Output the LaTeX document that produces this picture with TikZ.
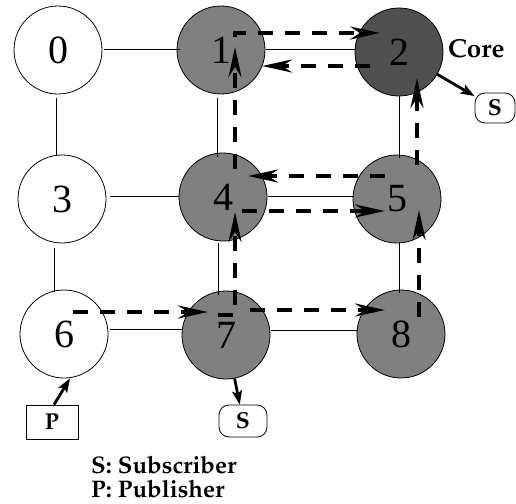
\documentclass[tikz,border=0pt]{standalone}
\usepackage[T1]{fontenc}
\usepackage{fontspec}
\usetikzlibrary{arrows.meta,calc}
\newfontfamily\digitfont{Liberation Serif}
\newcommand\lblfont{\fontencoding{T1}\fontfamily{ppl}\fontseries{b}\selectfont}
\definecolor{midgray}{HTML}{808080}
\definecolor{coregray}{HTML}{4F4F4F}
\tikzset{
  router/.style={circle,draw=black,line width=0.8pt,minimum size=88pt,inner sep=0pt,
    font=\digitfont\fontsize{40}{40}\selectfont},
  plain/.style={router,fill=white},
  member/.style={router,fill=midgray},
  core/.style={router,fill=coregray},
  link/.style={line width=1pt},
  flow/.style={line width=4pt,dash pattern=on 15pt off 12pt,
    -{Stealth[length=30pt,width=13pt,inset=10pt]}},
  attach/.style={line width=2.8pt,-{Stealth[length=14pt,width=10pt,inset=3pt]}},
  subbox/.style={draw=black,line width=0.8pt,rounded corners=10pt,minimum width=40pt,
    minimum height=30pt,inner sep=0pt,font=\fontsize{23}{23}\lblfont},
  pubbox/.style={draw=black,line width=0.8pt,minimum width=52pt,minimum height=34pt,
    inner sep=0pt,font=\fontsize{23}{23}\lblfont},
  legend/.style={anchor=base west,inner sep=0pt,font=\fontsize{24}{24}\lblfont}
}
\begin{document}
\begin{tikzpicture}[x=1pt,y=-1pt]
\useasboundingbox (0,0) rectangle (516,503);

% routers of the 3x3 grid
\node[plain]  (n0) at (58,50)   {0};
\node[member] (n1) at (221,50)  {1};
\node[core]   (n2) at (399,52)  {2};
\node[plain]  (n3) at (62,199)  {3};
\node[member] (n4) at (223,197) {4};
\node[member] (n5) at (397,199) {5};
\node[plain]  (n6) at (64,334)  {6};
\node[member] (n7) at (226,335) {7};
\node[member] (n8) at (401,334) {8};

% solid links
\draw[link] ([xshift=2pt]n0.east) -- ([xshift=3pt]n1.west);
\draw[link] ([xshift=1pt]n1.east) -- ([yshift=2pt]n2.west);
\draw[link] ([xshift=-2pt,yshift=-4pt]n0.south) -- ([xshift=-6pt]n3.north);
\draw[link] ([xshift=-4pt,yshift=-4pt]n1.south) -- ([xshift=-6pt,yshift=-4pt]n4.north);
\draw[link] (n2.south) -- ([xshift=2pt,yshift=-3pt]n5.north);
\draw[link] ([xshift=4pt,yshift=3pt]n3.east) -- ([yshift=1pt]n4.west);
\draw[link] ([xshift=1pt,yshift=1pt]n4.east) -- ([yshift=3pt]n5.west);
\draw[link] ([xshift=-8pt,yshift=-5pt]n3.south) -- ([xshift=-10pt,yshift=-2pt]n6.north);
\draw[link] ([xshift=-5pt,yshift=-2pt]n4.south) -- ([xshift=-8pt,yshift=-4pt]n7.north);
\draw[link] ([xshift=2pt]n5.south) -- ([xshift=-2pt,yshift=-3pt]n8.north);
\draw[link] ([xshift=2pt,yshift=5pt]n6.east) -- ([yshift=6pt]n7.west);
\draw[link] ([xshift=1pt,yshift=5pt]n7.east) -- ([yshift=4pt]n8.west);

% multicast data flow
\draw[flow] ($(n6)+(9,-22)$) -- ($(n7)+(-18,-23)$);
\draw[flow] ($(n7)+(24,-25)$) -- ($(n8)+(-16,-24)$);
\draw[flow] ($(n7)+(-8,-20)$) -| ($(n4)+(12,15)$);
\draw[flow] ($(n8)+(18,-17)$) -- ($(n5)+(22,11)$);
\draw[flow] ($(n4)+(19,14)$) -- ($(n5)+(-12,12)$);
\draw[flow] ($(n5)+(-12,-23)$) -- ($(n4)+(25,-21)$);
\draw[flow] ($(n4)+(12,-28)$) -- ($(n1)+(14,-3)$);
\draw[flow] ($(n5)+(20,-34)$) -- ($(n2)+(18,26)$);
\draw[flow] ($(n1)+(14,-13)$) |- ($(n2)+(-19,-19)$);
\draw[flow] ($(n2)+(-29,14)$) -- ($(n1)+(41,16)$);

% hosts
\node[subbox] (s1) at (495,108) {S};
\node[subbox,minimum width=48pt,minimum height=32pt] (s2) at (243,421) {S};
\node[pubbox] (p) at (52,422) {P};
\draw[attach] (n2) -- (s1);
\draw[attach] (n7) -- (s2);
\draw[attach] ([xshift=2pt]p.north) -- ([xshift=6pt]n6.south);

% labels
\node[legend,anchor=west,font=\fontsize{26}{26}\lblfont] (corelbl) at (448,49) {Core};
\node[legend] (leg1) at (91,473) {S: Subscriber};
\node[legend] (leg2) at (91,497) {P: Publisher};
\end{tikzpicture}
\end{document}
